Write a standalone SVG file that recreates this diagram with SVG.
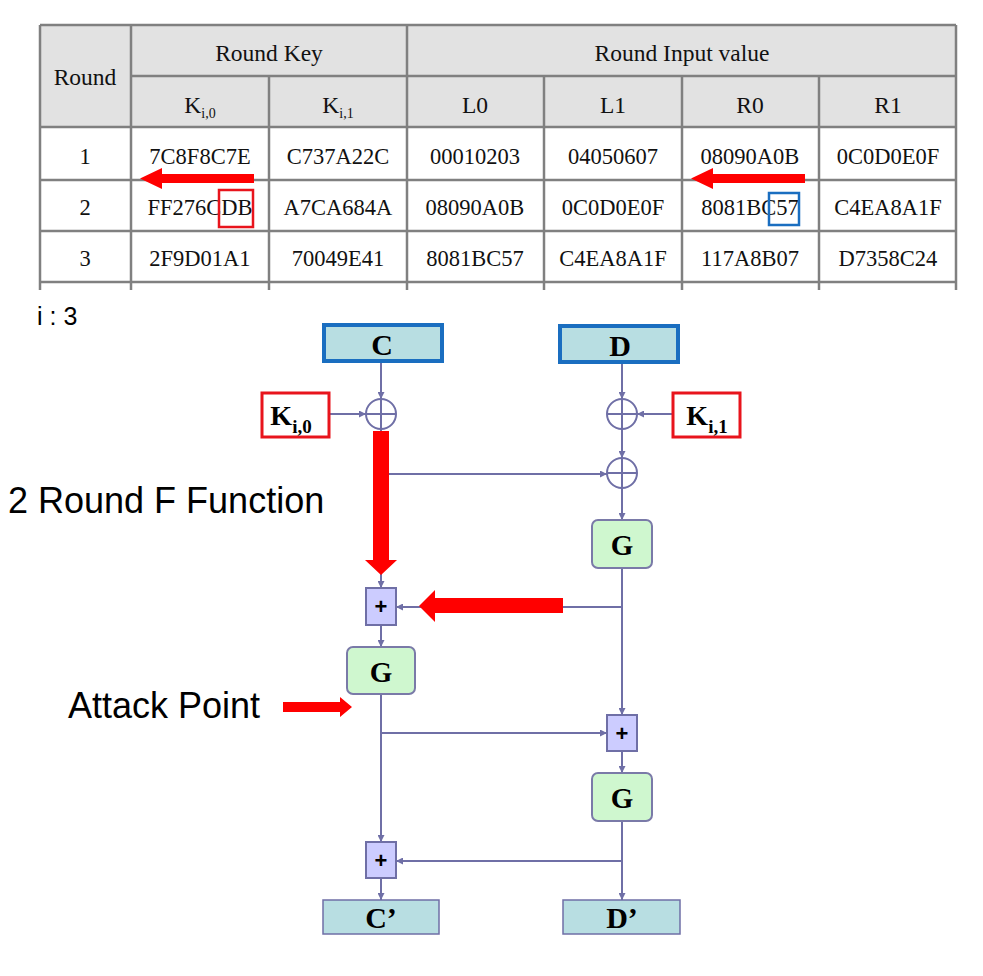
<svg xmlns="http://www.w3.org/2000/svg" width="983" height="976" viewBox="0 0 983 976">
<defs>
<marker id="ah" viewBox="0 0 10 10" refX="10" refY="5" markerWidth="7" markerHeight="7" markerUnits="userSpaceOnUse" orient="auto">
<path d="M0,0 L10,5 L0,10 z" fill="#6f6fa6"/>
</marker>
<style>
.tl{stroke:#808080;stroke-width:2.5;fill:none}
.th{font-family:"Liberation Serif",serif;font-size:23.5px;fill:#111;text-anchor:middle}
.td{font-family:"Liberation Serif",serif;font-size:22.5px;fill:#111;text-anchor:middle}
.ln{stroke:#6f6fa6;stroke-width:2;fill:none}
.io{fill:#b8dee2;stroke:#1a6ec0;stroke-width:4}
.io2{fill:#b8dee2;stroke:#6f6fa6;stroke-width:1.5}
.g{fill:#cff7cf;stroke:#7a7aa8;stroke-width:2}
.p{fill:#ccccff;stroke:#6f6fa6;stroke-width:2}
.bl{font-family:"Liberation Serif",serif;font-weight:bold;fill:#000;text-anchor:middle}
.pl{font-family:"Liberation Sans",Arial,sans-serif;font-weight:bold;font-size:22px;fill:#000;text-anchor:middle}
.key{fill:#fff;stroke:#e8141c;stroke-width:3}
.red{fill:#ff0000}
.sans{font-family:"Liberation Sans",Arial,sans-serif;fill:#000}
</style>
</defs>
<rect width="983" height="976" fill="#fff"/>

<g id="table">
<rect x="40" y="25" width="916" height="102" fill="#e2e2e2"/>
<line class="tl" x1="40" y1="25" x2="956" y2="25"/>
<line class="tl" x1="131" y1="76" x2="956" y2="76"/>
<line class="tl" x1="40" y1="127" x2="956" y2="127"/>
<line class="tl" x1="40" y1="180" x2="956" y2="180"/>
<line class="tl" x1="40" y1="231" x2="956" y2="231"/>
<line class="tl" x1="40" y1="282" x2="956" y2="282"/>
<line class="tl" x1="40" y1="25" x2="40" y2="290"/>
<line class="tl" x1="131" y1="25" x2="131" y2="290"/>
<line class="tl" x1="269" y1="76" x2="269" y2="290"/>
<line class="tl" x1="407" y1="25" x2="407" y2="290"/>
<line class="tl" x1="544" y1="76" x2="544" y2="290"/>
<line class="tl" x1="682" y1="76" x2="682" y2="290"/>
<line class="tl" x1="819" y1="76" x2="819" y2="290"/>
<line class="tl" x1="956" y1="25" x2="956" y2="290"/>
<text class="th" x="85" y="85">Round</text>
<text class="th" x="269" y="61">Round Key</text>
<text class="th" x="682" y="61">Round Input value</text>
<text class="th" x="200" y="113">K<tspan font-size="14" dy="5">i,0</tspan></text>
<text class="th" x="338" y="113">K<tspan font-size="14" dy="5">i,1</tspan></text>
<text class="th" x="475" y="113">L0</text>
<text class="th" x="613" y="113">L1</text>
<text class="th" x="750" y="113">R0</text>
<text class="th" x="888" y="113">R1</text>
<text class="td" x="85" y="164">1</text>
<text class="td" x="200" y="164">7C8F8C7E</text>
<text class="td" x="338" y="164">C737A22C</text>
<text class="td" x="475" y="164">00010203</text>
<text class="td" x="613" y="164">04050607</text>
<text class="td" x="750" y="164">08090A0B</text>
<text class="td" x="888" y="164">0C0D0E0F</text>
<text class="td" x="85" y="215">2</text>
<text class="td" x="200" y="215">FF276CDB</text>
<text class="td" x="338" y="215">A7CA684A</text>
<text class="td" x="475" y="215">08090A0B</text>
<text class="td" x="613" y="215">0C0D0E0F</text>
<text class="td" x="750" y="215">8081BC57</text>
<text class="td" x="888" y="215">C4EA8A1F</text>
<text class="td" x="85" y="266">3</text>
<text class="td" x="200" y="266">2F9D01A1</text>
<text class="td" x="338" y="266">70049E41</text>
<text class="td" x="475" y="266">8081BC57</text>
<text class="td" x="613" y="266">C4EA8A1F</text>
<text class="td" x="750" y="266">117A8B07</text>
<text class="td" x="888" y="266">D7358C24</text>
</g>

<g id="table-marks">
<path class="red" d="M254,174 L162,174 L162,168 L140,178.5 L162,189 L162,183 L254,183 z"/>
<path class="red" d="M805,174 L713,174 L713,168 L691,178.5 L713,189 L713,183 L805,183 z"/>
<rect x="219" y="190" width="34" height="37" fill="none" stroke="#e8141c" stroke-width="2.5"/>
<rect x="769" y="193" width="30" height="32" fill="none" stroke="#1a6ec0" stroke-width="2.5"/>
</g>

<g id="labels">
<text class="sans" x="37" y="325" font-size="25">i : 3</text>
<text class="sans" x="8" y="513" font-size="36">2 Round F Function</text>
<text class="sans" x="68" y="718" font-size="36">Attack Point</text>
</g>

<g id="connectors">
<line class="ln" x1="381" y1="361" x2="381" y2="399" marker-end="url(#ah)"/>
<line class="ln" x1="329" y1="414" x2="366" y2="414" marker-end="url(#ah)"/>
<line class="ln" x1="622" y1="362" x2="622" y2="399" marker-end="url(#ah)"/>
<line class="ln" x1="673" y1="414" x2="637" y2="414" marker-end="url(#ah)"/>
<line class="ln" x1="622" y1="429" x2="622" y2="458" marker-end="url(#ah)"/>
<line class="ln" x1="381" y1="429" x2="381" y2="588" marker-end="url(#ah)"/>
<line class="ln" x1="381" y1="474" x2="607" y2="474" marker-end="url(#ah)"/>
<line class="ln" x1="622" y1="488" x2="622" y2="520" marker-end="url(#ah)"/>
<line class="ln" x1="622" y1="568" x2="622" y2="715" marker-end="url(#ah)"/>
<line class="ln" x1="622" y1="607" x2="396" y2="607" marker-end="url(#ah)"/>
<line class="ln" x1="381" y1="625" x2="381" y2="647" marker-end="url(#ah)"/>
<line class="ln" x1="381" y1="694" x2="381" y2="842" marker-end="url(#ah)"/>
<line class="ln" x1="381" y1="733" x2="607" y2="733" marker-end="url(#ah)"/>
<line class="ln" x1="622" y1="751" x2="622" y2="773" marker-end="url(#ah)"/>
<line class="ln" x1="622" y1="821" x2="622" y2="900" marker-end="url(#ah)"/>
<line class="ln" x1="622" y1="861" x2="396" y2="861" marker-end="url(#ah)"/>
<line class="ln" x1="381" y1="878" x2="381" y2="900" marker-end="url(#ah)"/>
</g>

<g id="C"><rect class="io" x="324" y="325" width="118" height="36"/><text class="bl" x="382" y="355" font-size="30">C</text></g>
<g id="D"><rect class="io" x="560" y="326" width="118" height="36"/><text class="bl" x="620" y="356" font-size="30">D</text></g>
<g id="Ki0"><rect class="key" x="262" y="393" width="67" height="44"/><text class="bl" x="291" y="425" font-size="28">K<tspan font-size="19" dy="8">i,0</tspan></text></g>
<g id="Ki1"><rect class="key" x="673" y="393" width="67" height="44"/><text class="bl" x="707" y="425" font-size="28">K<tspan font-size="19" dy="8">i,1</tspan></text></g>
<g id="xor1"><circle cx="381" cy="414" r="15" fill="#fff" stroke="#6f6fa6" stroke-width="2"/><path class="ln" d="M366,414 H396 M381,399 V429"/></g>
<g id="xor2"><circle cx="622" cy="414" r="15" fill="#fff" stroke="#6f6fa6" stroke-width="2"/><path class="ln" d="M607,414 H637 M622,399 V429"/></g>
<g id="xor3"><circle cx="622" cy="473" r="15" fill="#fff" stroke="#6f6fa6" stroke-width="2"/><path class="ln" d="M607,473 H637 M622,458 V488"/></g>
<g id="G1"><rect class="g" x="592" y="520" width="60" height="48" rx="6"/><text class="bl" x="622" y="555" font-size="29">G</text></g>
<g id="add1"><rect class="p" x="366" y="588" width="30" height="37"/><text class="pl" x="381" y="614">+</text></g>
<g id="G2"><rect class="g" x="347" y="647" width="68" height="47" rx="6"/><text class="bl" x="381" y="682" font-size="29">G</text></g>
<g id="add2"><rect class="p" x="607" y="715" width="30" height="36"/><text class="pl" x="622" y="741">+</text></g>
<g id="G3"><rect class="g" x="592" y="773" width="60" height="48" rx="6"/><text class="bl" x="622" y="808" font-size="29">G</text></g>
<g id="add3"><rect class="p" x="366" y="842" width="30" height="36"/><text class="pl" x="381" y="868">+</text></g>
<g id="Cp"><rect class="io2" x="323" y="900" width="116" height="34"/><text class="bl" x="381" y="928" font-size="30">C’</text></g>
<g id="Dp"><rect class="io2" x="563" y="900" width="117" height="34"/><text class="bl" x="622" y="928" font-size="30">D’</text></g>

<g id="red-arrows">
<path class="red" d="M373,431 L389,431 L389,560 L397,560 L381,575 L365,560 L373,560 z"/>
<path class="red" d="M563,598 L435,598 L435,590 L419,606 L435,622 L435,613 L563,613 z"/>
<path class="red" d="M283,702 L340,702 L340,697 L352,707 L340,717 L340,712 L283,712 z"/>
</g>
</svg>
